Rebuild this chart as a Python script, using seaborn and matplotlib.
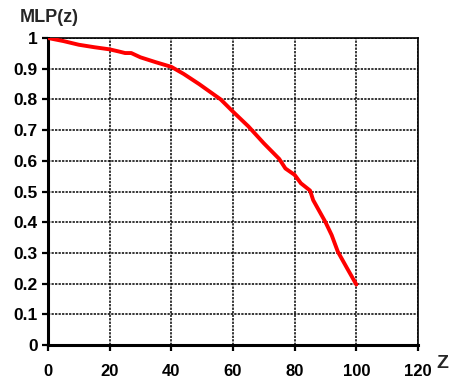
import matplotlib
matplotlib.use("Agg")
import matplotlib.pyplot as plt
import seaborn as sns
import pandas as pd

z_values = [0, 5, 10, 15, 20, 23, 25, 27, 30, 35, 40, 44, 49, 56, 60, 65, 70, 75, 77, 80, 82, 85, 86, 90, 92, 94, 97, 100]
mlp_values = [1.0, 0.99, 0.978, 0.97, 0.963, 0.956, 0.951, 0.951, 0.937, 0.921, 0.906, 0.883, 0.85, 0.80, 0.76, 0.712,
              0.657, 0.606, 0.575, 0.554, 0.527, 0.503, 0.472, 0.40, 0.358, 0.304, 0.25, 0.197]
x_ticks = [0, 20, 40, 60, 80, 100, 120]
y_ticks = [0, 0.1, 0.2, 0.3, 0.4, 0.5, 0.6, 0.7, 0.8, 0.9, 1.0]
y_tick_labels = ["0", "0.1", "0.2", "0.3", "0.4", "0.5", "0.6", "0.7", "0.8", "0.9", "1"]

sns.set_style("white")
plt.rcParams['font.family'] = ['Liberation Sans', 'DejaVu Sans']
plt.rcParams['font.weight'] = 'bold'

df = pd.DataFrame({"z": z_values, "mlp": mlp_values})

fig = plt.figure(figsize=(4.49, 3.79), dpi=100)
ax = fig.add_axes([48/449, 1-345/379, (418-48)/449, (345-38)/379])

sns.lineplot(data=df, x="z", y="mlp", ax=ax, color="#ff0000", linewidth=2.8, zorder=3)

ax.set_xlim(0, 120)
ax.set_ylim(0, 1)
ax.set_xticks(x_ticks)
ax.set_xticklabels([str(t) for t in x_ticks], fontweight="bold", fontsize=12)
ax.set_yticks(y_ticks)
ax.set_yticklabels(y_tick_labels, fontweight="bold", fontsize=12.5)
ax.set_xlabel("")
ax.set_ylabel("")

ax.grid(True, color="black", linestyle=(0, (1.5, 0.8)), linewidth=1.1, zorder=1)
ax.set_axisbelow(True)

for side in ["top", "right"]:
    ax.spines[side].set_visible(True)
    ax.spines[side].set_color("black")
    ax.spines[side].set_linewidth(1.2)
for side in ["left", "bottom"]:
    ax.spines[side].set_color("black")
    ax.spines[side].set_linewidth(2.2)

ax.tick_params(axis="both", which="major", direction="out", length=4.5, width=1.6, color="black", labelcolor="black")
ax.tick_params(axis="x", pad=9)
ax.tick_params(axis="y", pad=3)
ax.tick_params(left=True, bottom=True)

fig.text(20/449, 1-18/379, "MLP(z)", fontweight="bold", fontsize=13, ha="left", va="center")
fig.text(442/449, 1-364/379, "Z", fontweight="bold", fontsize=14, ha="center", va="center")

fig.savefig("out.png", dpi=100)
